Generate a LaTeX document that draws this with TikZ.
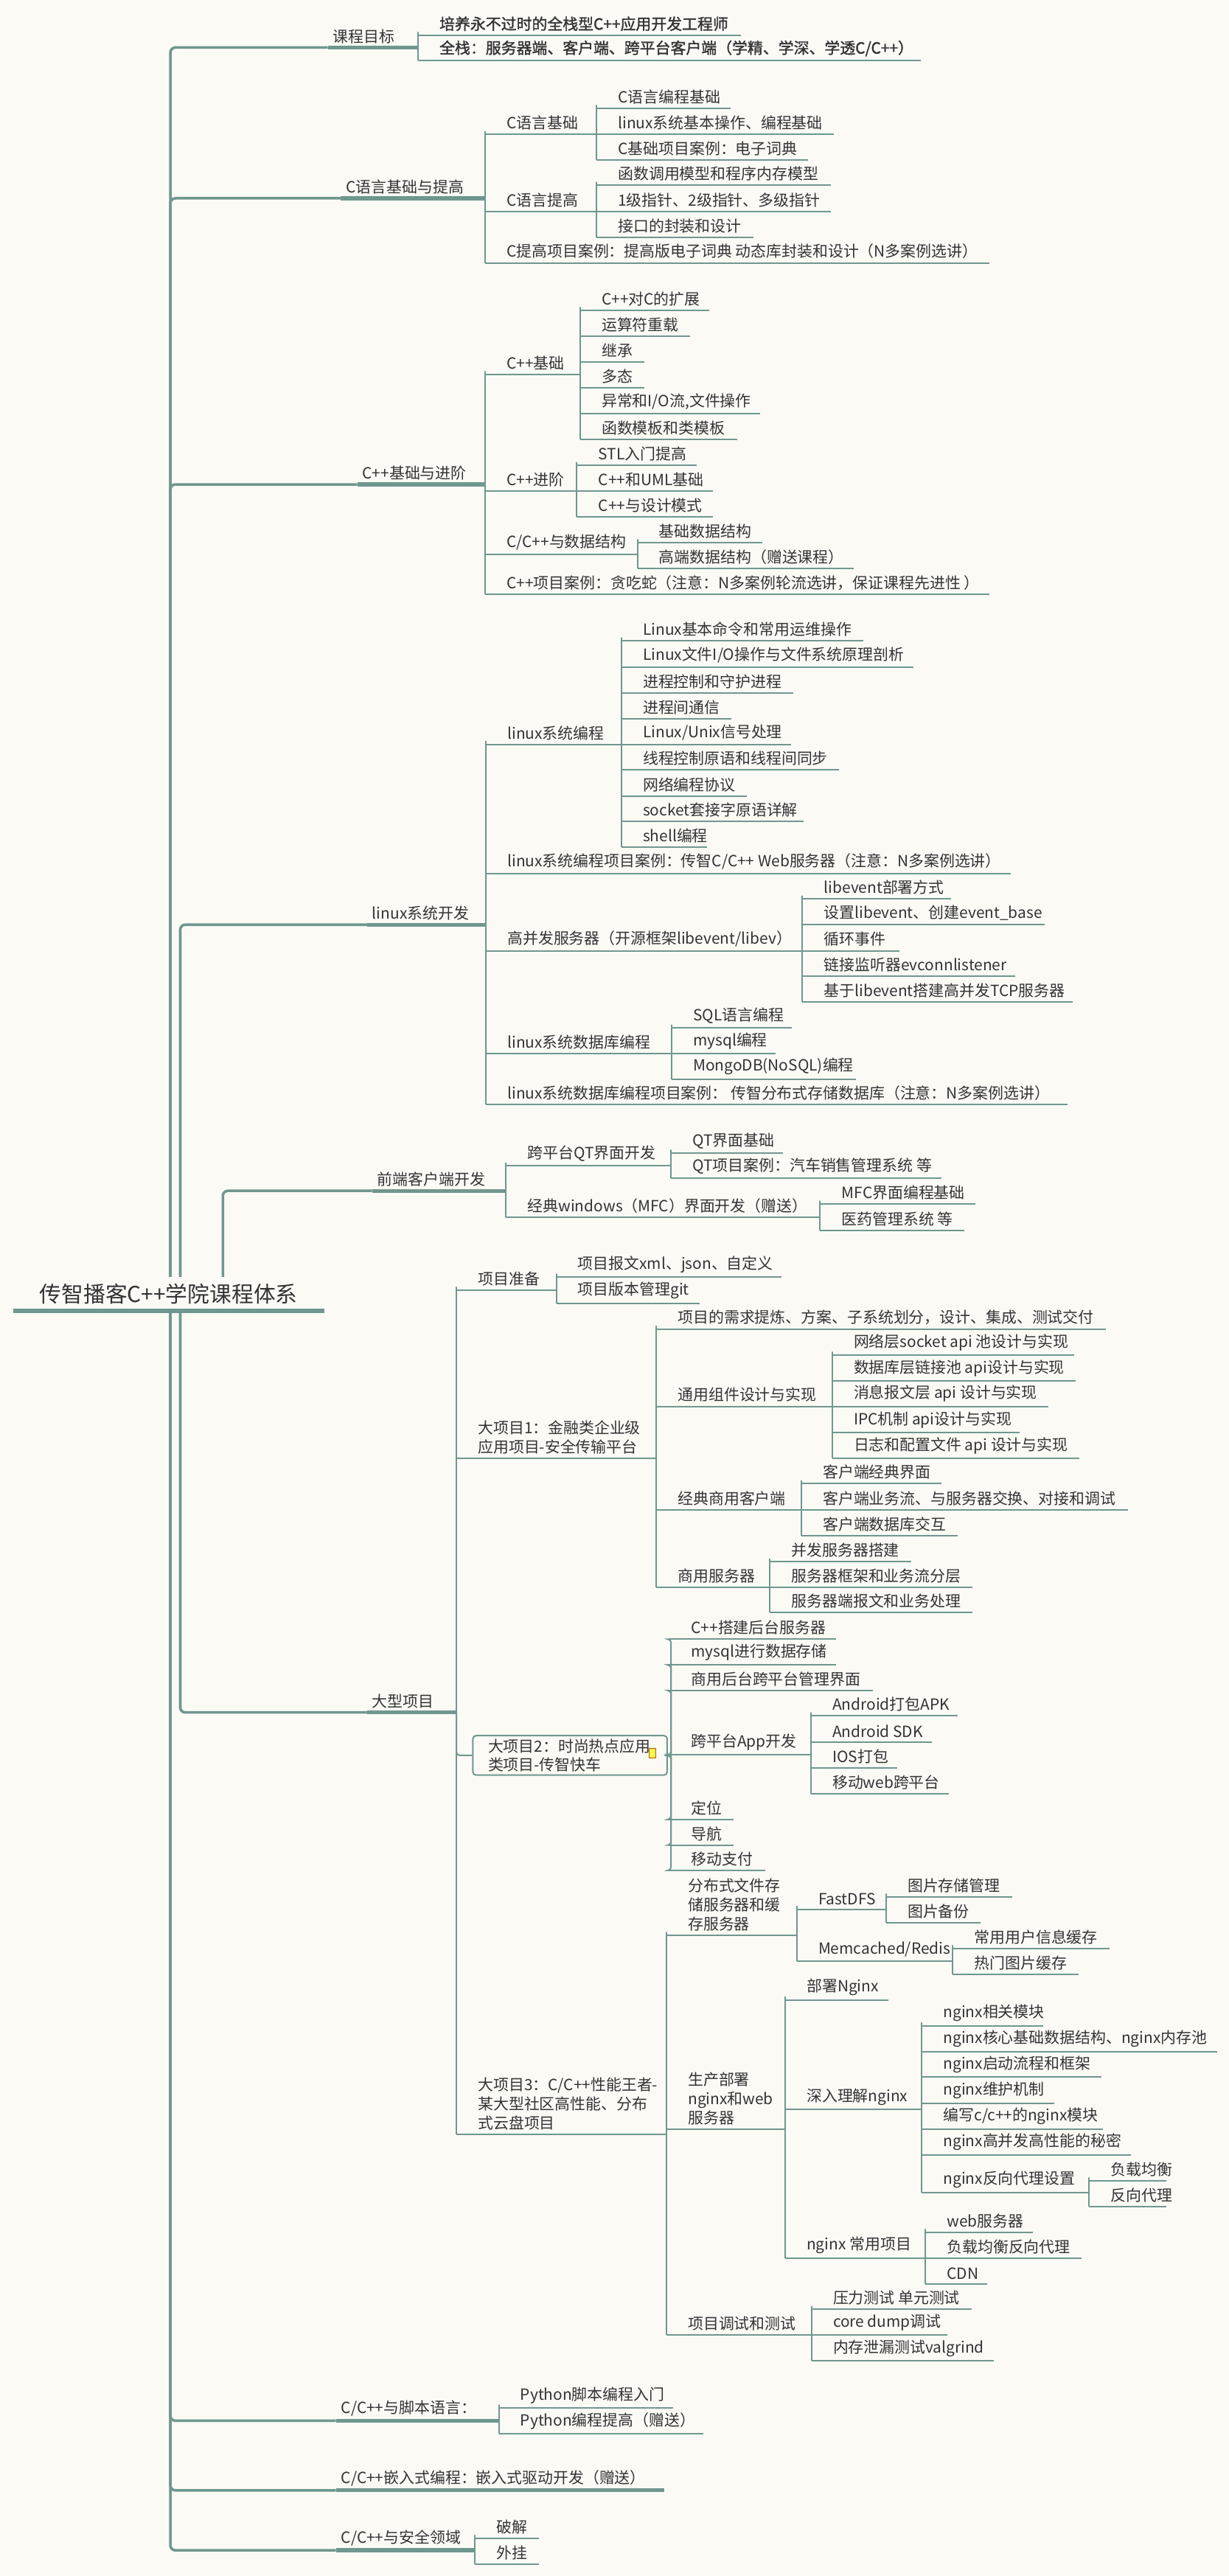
\documentclass[tikz,border=0pt]{standalone}
\usepackage{fontspec}
\setmainfont{Noto Sans CJK SC}
\newfontfamily\bcjk{Noto Sans CJK SC}[FakeBold=1.5]
\definecolor{bg}{HTML}{FBFAF5}
\definecolor{lc}{HTML}{6F978F}
\definecolor{txt}{HTML}{333333}
\newcommand\fs{\fontsize{9.4}{11.6}\selectfont}
\tikzset{
 item/.style={anchor=south west, inner xsep=13pt, inner ysep=2.4pt, align=left, font=\fs, text=txt},
 itemL/.style={item, inner xsep=3pt},
 ul/.style={draw=lc, line width=0.9pt},
 ulL/.style={draw=lc, line width=2.4pt},
 ln/.style={draw=lc, line width=0.9pt, rounded corners=2pt},
 lnL/.style={draw=lc, line width=1.6pt, rounded corners=3pt},
}
\newcommand\It[5]{\node[item] (#1) at (#2,-#4) {#5};\coordinate (#1-e) at (#3,-#4);\draw[ul] (#1.south west) -- (#1-e);}
\newcommand\ItL[5]{\node[itemL] (#1) at (#2,-#4) {#5};\coordinate (#1-e) at (#3,-#4);\draw[ulL] (#1.south west) -- (#1-e);}
\newcommand\Cn[2]{\draw[ln] (#1-e) |- (#2.south west);}
\begin{document}
\begin{tikzpicture}[x=1pt,y=1pt]
\fill[bg] (0,0) rectangle (750,-1572);
\useasboundingbox (0,0) rectangle (750,-1572);
\coordinate (ru) at (104,-800);
\coordinate (rv) at (110,-800);
\coordinate (rf) at (136,-800);
% level 1
\ItL{g}{200}{255}{29}{课程目标}
\ItL{c}{208}{296}{121}{C语言基础与提高}
\ItL{cp}{218}{296}{295.6}{C++基础与进阶}
\ItL{lx}{224}{296.5}{564.3}{linux系统开发}
\ItL{fe}{227}{308.8}{726.7}{前端客户端开发}
\ItL{bp}{224}{278.5}{1045}{大型项目}
\ItL{py}{205}{304.4}{1477.2}{C/C++与脚本语言：}
\ItL{em}{205}{405.4}{1519.7}{C/C++嵌入式编程：嵌入式驱动开发（赠送）}
\ItL{se}{205}{289.7}{1556.3}{C/C++与安全领域}
\foreach \n in {g,c,cp}{\draw[lnL] (ru) |- (\n.south west);}
\draw[lnL] (rv) |- (lx.south west);
\draw[lnL] (rf) |- (fe.south west);
\draw[lnL] (rv) |- (bp.south west);
\foreach \n in {py,em,se}{\draw[lnL] (ru) |- (\n.south west);}
% root
\node[anchor=south west, fill=bg, inner xsep=2pt, inner ysep=4pt, font=\fontsize{13.4}{15}\selectfont, text=txt] (root) at (22,-800) {传智播客C++学院课程体系};
\coordinate (root-w) at (8,-800);
\draw[draw=lc, line width=2.6pt] (root-w) -- (198,-800);
% 课程目标
\It{g1}{255}{452}{21.5}{\bcjk 培养永不过时的全栈型C++应用开发工程师}
\It{g2}{255}{562}{37}{\bcjk 全栈：服务器端、客户端、跨平台客户端（学精、学深、学透C/C++）}
\Cn{g}{g1}\Cn{g}{g2}
% C语言
\It{c1}{296}{364}{82}{C语言基础}
\It{c2}{296}{364}{129}{C语言提高}
\It{c3}{296}{604}{160.5}{C提高项目案例：提高版电子词典 动态库封装和设计（N多案例选讲）}
\Cn{c}{c1}\Cn{c}{c2}\Cn{c}{c3}
\It{c11}{364}{446}{66}{C语言编程基础}
\It{c12}{364}{509}{82}{linux系统基本操作、编程基础}
\It{c13}{364}{493}{97.5}{C基础项目案例：电子词典}
\Cn{c1}{c11}\Cn{c1}{c12}\Cn{c1}{c13}
\It{c21}{364}{507}{113}{函数调用模型和程序内存模型}
\It{c22}{364}{507}{129}{1级指针、2级指针、多级指针}
\It{c23}{364}{460}{145}{接口的封装和设计}
\Cn{c2}{c21}\Cn{c2}{c22}\Cn{c2}{c23}
% C++
\It{p1}{296}{354}{228.5}{C++基础}
\It{p2}{296}{352}{299.6}{C++进阶}
\It{p3}{296}{389}{338.5}{C/C++与数据结构}
\It{p4}{296}{604}{362.7}{C++项目案例：贪吃蛇（注意：N多案例轮流选讲，保证课程先进性 ）}
\Cn{cp}{p1}\Cn{cp}{p2}\Cn{cp}{p3}\Cn{cp}{p4}
\It{p11}{354}{433}{189.3}{C++对C的扩展}
\It{p12}{354}{421}{205}{运算符重载}
\It{p13}{354}{393}{221}{继承}
\It{p14}{354}{393}{236.7}{多态}
\It{p15}{354}{464}{252.5}{异常和I/O流,文件操作}
\It{p16}{354}{450}{268}{函数模板和类模板}
\foreach \n in {p11,p12,p13,p14,p15,p16}{\Cn{p1}{\n}}
\It{p21}{352}{425}{284}{STL入门提高}
\It{p22}{352}{435}{299.6}{C++和UML基础}
\It{p23}{352}{435}{315.4}{C++与设计模式}
\Cn{p2}{p21}\Cn{p2}{p22}\Cn{p2}{p23}
\It{p31}{389}{465}{331}{基础数据结构}
\It{p32}{389}{521}{347}{高端数据结构（赠送课程）}
\Cn{p3}{p31}\Cn{p3}{p32}
% linux
\It{l1}{296.5}{379.2}{454.2}{linux系统编程}
\It{l2}{296.5}{617}{533}{linux系统编程项目案例：传智C/C++ Web服务器（注意：N多案例选讲）}
\It{l3}{296.5}{489.7}{580.2}{高并发服务器（开源框架libevent/libev）}
\It{l4}{296.5}{409.8}{643}{linux系统数据库编程}
\It{l5}{296.5}{651.3}{674.1}{linux系统数据库编程项目案例： 传智分布式存储数据库（注意：N多案例选讲）}
\foreach \n in {l1,l2,l3,l4,l5}{\Cn{lx}{\n}}
\It{l11}{379.2}{527}{391}{Linux基本命令和常用运维操作}
\It{l12}{379.2}{557.6}{407}{Linux文件I/O操作与文件系统原理剖析}
\It{l13}{379.2}{484.3}{422.7}{进程控制和守护进程}
\It{l14}{379.2}{446.5}{438.6}{进程间通信}
\It{l15}{379.2}{482.8}{454.2}{Linux/Unix信号处理}
\It{l16}{379.2}{511.8}{469.9}{线程控制原语和线程间同步}
\It{l17}{379.2}{455.9}{485.8}{网络编程协议}
\It{l18}{379.2}{490.6}{501.4}{socket套接字原语详解}
\It{l19}{379.2}{431.3}{517.1}{shell编程}
\foreach \n in {l11,l12,l13,l14,l15,l16,l17,l18,l19}{\Cn{l1}{\n}}
\It{l31}{489.7}{580.6}{548.6}{libevent部署方式}
\It{l32}{489.7}{637.4}{564.3}{设置libevent、创建event\_base}
\It{l33}{489.7}{549}{580.2}{循环事件}
\It{l34}{489.7}{619.7}{595.8}{链接监听器evconnlistener}
\It{l35}{489.7}{654.8}{611.5}{基于libevent搭建高并发TCP服务器}
\foreach \n in {l31,l32,l33,l34,l35}{\Cn{l3}{\n}}
\It{l41}{409.8}{483.4}{627.3}{SQL语言编程}
\It{l42}{409.8}{473.3}{643}{mysql编程}
\It{l43}{409.8}{522.2}{658.6}{MongoDB(NoSQL)编程}
\Cn{l4}{l41}\Cn{l4}{l42}\Cn{l4}{l43}
% 前端
\It{f1}{308.8}{409.4}{711.4}{跨平台QT界面开发}
\It{f2}{308.8}{500.5}{742.8}{经典windows（MFC）界面开发（赠送）}
\Cn{fe}{f1}\Cn{fe}{f2}
\It{f11}{409.4}{478}{703.6}{QT界面基础}
\It{f12}{409.4}{574.7}{719.1}{QT项目案例：汽车销售管理系统 等}
\Cn{f1}{f11}\Cn{f1}{f12}
\It{f21}{500.5}{595.2}{734.7}{MFC界面编程基础}
\It{f22}{500.5}{588.6}{750.8}{医药管理系统 等}
\Cn{f2}{f21}\Cn{f2}{f22}
% 大型项目
\It{b0}{278.5}{339.5}{787.3}{项目准备}
\It{b1}{278.5}{400.5}{889.8}{大项目1：金融类企业级\\应用项目-安全传输平台}
\node[anchor=north west, draw=lc, line width=0.9pt, rounded corners=2pt, minimum width=118.6pt, minimum height=24.1pt, inner xsep=5pt, inner ysep=1pt, align=left, font=\fs, text=txt, text width=100pt] (b2) at (288.1,-1058.7) {大项目2：时尚热点应用\\类项目-传智快车};
\coordinate (b2-e) at (b2.east);
\node[draw=orange!70!black, fill=yellow!70, line width=0.4pt, minimum width=4pt, minimum height=6pt, inner sep=0pt] (b2i) at (398,-1070) {};
\It{b3}{278.5}{406.7}{1302.5}{大项目3：C/C++性能王者-\\某大型社区高性能、分布\\式云盘项目}
\Cn{bp}{b0}\Cn{bp}{b1}\Cn{bp}{b3}
\draw[ln] (bp-e) |- (b2.west);
\It{b01}{339.5}{477.1}{779.3}{项目报文xml、json、自定义}
\It{b02}{339.5}{426.9}{795.4}{项目版本管理git}
\Cn{b0}{b01}\Cn{b0}{b02}
% project 1
\It{b11}{400.5}{675}{811}{项目的需求提炼、方案、子系统划分，设计、集成、测试交付}
\It{b12}{400.5}{507.8}{858.2}{通用组件设计与实现}
\It{b13}{400.5}{489}{921.3}{经典商用客户端}
\It{b14}{400.5}{469.8}{968.5}{商用服务器}
\Cn{b1}{b11}\Cn{b1}{b12}\Cn{b1}{b13}\Cn{b1}{b14}
\It{b121}{507.8}{655.3}{826.9}{网络层socket api 池设计与实现}
\It{b122}{507.8}{656.3}{842.6}{数据库层链接池 api设计与实现}
\It{b123}{507.8}{639.7}{858.2}{消息报文层 api 设计与实现}
\It{b124}{507.8}{622.3}{874.1}{IPC机制 api设计与实现}
\It{b125}{507.8}{658.6}{889.8}{日志和配置文件 api 设计与实现}
\foreach \n in {b121,b122,b123,b124,b125}{\Cn{b12}{\n}}
\It{b131}{489}{574.7}{905.4}{客户端经典界面}
\It{b132}{489}{688.3}{921.3}{客户端业务流、与服务器交换、对接和调试}
\It{b133}{489}{584.6}{937}{客户端数据库交互}
\Cn{b13}{b131}\Cn{b13}{b132}\Cn{b13}{b133}
\It{b141}{469.8}{556.3}{953}{并发服务器搭建}
\It{b142}{469.8}{593.6}{968.5}{服务器框架和业务流分层}
\It{b143}{469.8}{593.6}{984.1}{服务器端报文和业务处理}
\Cn{b14}{b141}\Cn{b14}{b142}\Cn{b14}{b143}
% project 2
\It{b21}{408.6}{510.2}{1000.3}{C++搭建后台服务器}
\It{b22}{408.6}{510.2}{1016}{mysql进行数据存储}
\It{b23}{408.6}{532.6}{1031.6}{商用后台跨平台管理界面}
\It{b24}{408.6}{494.8}{1070.6}{跨平台App开发}
\It{b25}{408.6}{447.7}{1110.3}{定位}
\It{b26}{408.6}{447.7}{1126}{导航}
\It{b27}{408.6}{467}{1141.4}{移动支付}
\foreach \n in {b21,b22,b23,b24,b25,b26,b27}{\draw[ln] (b2-e) -- ++(1.9,0) |- (\n.south west);}
\It{b241}{494.8}{584.6}{1047}{Android打包APK}
\It{b242}{494.8}{568.9}{1063}{Android SDK}
\It{b243}{494.8}{547.7}{1078.8}{IOS打包}
\It{b244}{494.8}{579.1}{1094.7}{移动web跨平台}
\foreach \n in {b241,b242,b243,b244}{\Cn{b24}{\n}}
% project 3
\It{b31}{406.7}{486.2}{1181}{分布式文件存\\储服务器和缓\\存服务器}
\It{b32}{406.7}{479.1}{1299.2}{生产部署\\nginx和web\\服务器}
\It{b33}{406.7}{495.2}{1425}{项目调试和测试}
\Cn{b3}{b31}\Cn{b3}{b32}\Cn{b3}{b33}
\It{b311}{486.2}{540.7}{1165.1}{FastDFS}
\It{b312}{486.2}{581.4}{1196.7}{Memcached/Redis}
\Cn{b31}{b311}\Cn{b31}{b312}
\It{b3111}{540.7}{617.6}{1157.5}{图片存储管理}
\It{b3112}{540.7}{598.3}{1173.2}{图片备份}
\Cn{b311}{b3111}\Cn{b311}{b3112}
\It{b3121}{581.4}{676.9}{1189}{常用用户信息缓存}
\It{b3122}{581.4}{658.3}{1204.7}{热门图片缓存}
\Cn{b312}{b3121}\Cn{b312}{b3122}
\It{b321}{479.1}{542.3}{1220.4}{部署Nginx}
\It{b322}{479.1}{562.5}{1287.4}{深入理解nginx}
\It{b323}{479.1}{564.7}{1378}{nginx 常用项目}
\Cn{b32}{b321}\Cn{b32}{b322}\Cn{b32}{b323}
\It{n1}{562.5}{636.8}{1236.2}{nginx相关模块}
\It{n2}{562.5}{742.6}{1251.9}{nginx核心基础数据结构、nginx内存池}
\It{n3}{562.5}{672}{1267.5}{nginx启动流程和框架}
\It{n4}{562.5}{643.2}{1283.4}{nginx维护机制}
\It{n5}{562.5}{673}{1299.2}{编写c/c++的nginx模块}
\It{n6}{562.5}{690.3}{1314.9}{nginx高并发高性能的秘密}
\It{n7}{562.5}{664.7}{1338}{nginx反向代理设置}
\foreach \n in {n1,n2,n3,n4,n5,n6,n7}{\Cn{b322}{\n}}
\It{n71}{664.7}{711.7}{1330.8}{负载均衡}
\It{n72}{664.7}{711.7}{1346.5}{反向代理}
\Cn{n7}{n71}\Cn{n7}{n72}
\It{w1}{564.7}{630.4}{1362.2}{web服务器}
\It{w2}{564.7}{660.2}{1378}{负载均衡反向代理}
\It{w3}{564.7}{602.5}{1393.6}{CDN}
\Cn{b323}{w1}\Cn{b323}{w2}\Cn{b323}{w3}
\It{t1}{495.2}{592.9}{1409.3}{压力测试 单元测试}
\It{t2}{495.2}{578.2}{1425}{core dump调试}
\It{t3}{495.2}{606.4}{1440.8}{内存泄漏测试valgrind}
\Cn{b33}{t1}\Cn{b33}{t2}\Cn{b33}{t3}
% bottom
\It{y1}{304.4}{410.9}{1469.4}{Python脚本编程入门}
\It{y2}{304.4}{429.4}{1485.1}{Python编程提高（赠送）}
\Cn{py}{y1}\Cn{py}{y2}
\It{s1}{289.7}{329.1}{1548.9}{破解}
\It{s2}{289.7}{329.1}{1564.6}{外挂}
\Cn{se}{s1}\Cn{se}{s2}
\end{tikzpicture}
\end{document}
